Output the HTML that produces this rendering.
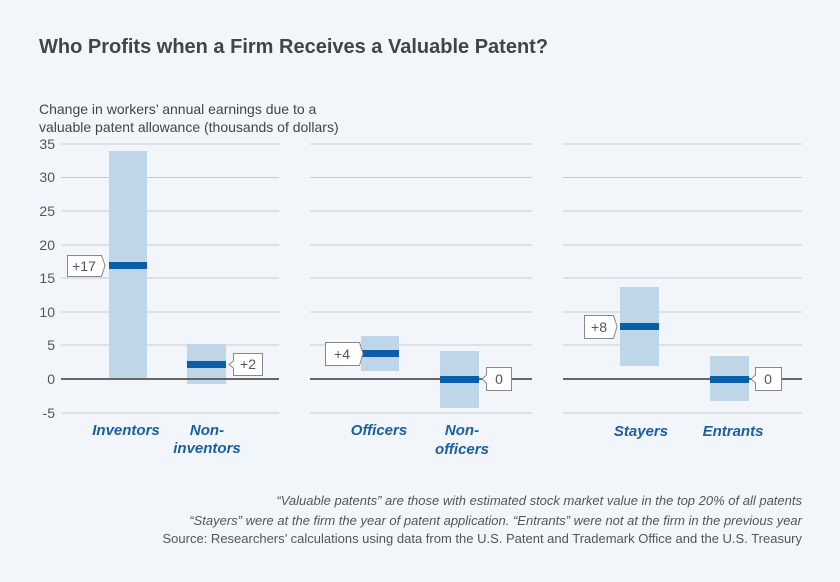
<!DOCTYPE html>
<html><head><meta charset="utf-8"><style>
body{margin:0;background:#f2f6fa;}
svg{display:block;font-family:"Liberation Sans",sans-serif;}
</style></head><body>
<svg width="840" height="582" viewBox="0 0 840 582">
<rect width="840" height="582" fill="#f2f6fa"/>
<text x="39" y="53" font-size="20" font-weight="bold" fill="#444">Who Profits when a Firm Receives a Valuable Patent?</text>
<text x="39" y="114" font-size="14" fill="#444">Change in workers’ annual earnings due to a</text>
<text x="39" y="132" font-size="14" fill="#444">valuable patent allowance (thousands of dollars)</text>
<g font-size="14" fill="#555" text-anchor="end">
<text x="55" y="149">35</text><text x="55" y="182">30</text><text x="55" y="216">25</text><text x="55" y="250">20</text><text x="55" y="283">15</text><text x="55" y="317">10</text><text x="55" y="350">5</text><text x="55" y="384">0</text><text x="55" y="418">-5</text>
</g>
<g stroke="#c8ccd2" stroke-width="1">
<path d="M61 144H279M61 177.5H279M61 211H279M61 245H279M61 278H279M61 312H279M61 345H279M61 413H279"/>
<path d="M310 144H532M310 177.5H532M310 211H532M310 245H532M310 278H532M310 312H532M310 345H532M310 413H532"/>
<path d="M563 144H802M563 177.5H802M563 211H802M563 245H802M563 278H802M563 312H802M563 345H802M563 413H802"/>
</g>
<g fill="#bfd6e8">
<rect x="109" y="151" width="38" height="228"/>
<rect x="187" y="344" width="39" height="40"/>
<rect x="361" y="336" width="38" height="35"/>
<rect x="440" y="351" width="39" height="57"/>
<rect x="620" y="287" width="39" height="79"/>
<rect x="710" y="356" width="39" height="45"/>
</g>
<g stroke="#666" stroke-width="2">
<path d="M61 379H279M310 379H532M563 379H802"/>
</g>
<g fill="#0a5ea8">
<rect x="109" y="262" width="38" height="7"/>
<rect x="187" y="361" width="39" height="7"/>
<rect x="361" y="350" width="38" height="7"/>
<rect x="440" y="376" width="39" height="7"/>
<rect x="620" y="323" width="39" height="7"/>
<rect x="710" y="376" width="39" height="7"/>
</g>
<g fill="#fff" stroke="#888" stroke-width="1">
<path d="M67.5 255.5H101.5L105 265.5L101.5 276.5H67.5Z"/>
<path d="M233.5 353.5H262.5V375.5H233.5V368L229 364.5L233.5 361Z"/>
<path d="M325.5 342.5H359.5L363 353.5L359.5 365.5H325.5Z"/>
<path d="M486.5 367.5H511.5V390.5H486.5V383L482 379L486.5 375Z"/>
<path d="M584.5 315.5H613.5L617 326.5L613.5 338.5H584.5Z"/>
<path d="M755.5 367.5H781.5V390.5H755.5V383L751 379L755.5 375Z"/>
</g>
<g font-size="14" fill="#555" text-anchor="middle">
<text x="84" y="271">+17</text>
<text x="248" y="369">+2</text>
<text x="342" y="359">+4</text>
<text x="499" y="384">0</text>
<text x="599" y="332">+8</text>
<text x="768" y="384">0</text>
</g>
<g font-size="15" fill="#1a5fa0" font-style="italic" font-weight="bold" text-anchor="middle">
<text x="126" y="435">Inventors</text>
<text x="207" y="435">Non-</text><text x="207" y="453">inventors</text>
<text x="379" y="435">Officers</text>
<text x="462" y="435">Non-</text><text x="462" y="454">officers</text>
<text x="641" y="436">Stayers</text>
<text x="733" y="436">Entrants</text>
</g>
<g font-size="13" fill="#555" text-anchor="end">
<text x="802" y="505" font-style="italic">“Valuable patents” are those with estimated stock market value in the top 20% of all patents</text>
<text x="802" y="525" font-style="italic">“Stayers” were at the firm the year of patent application. “Entrants” were not at the firm in the previous year</text>
<text x="802" y="543">Source: Researchers’ calculations using data from the U.S. Patent and Trademark Office and the U.S. Treasury</text>
</g>
</svg>
</body></html>
